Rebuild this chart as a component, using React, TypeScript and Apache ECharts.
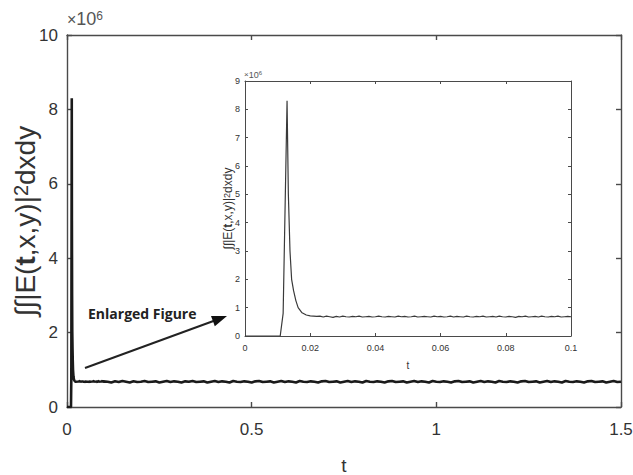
import React, { useEffect, useRef } from "react";
import * as echarts from "echarts";

// Early part (pulse), t in seconds, energy in units of 1e6
const pulseT = [0, 0.0108, 0.0117, 0.0129, 0.0133, 0.0138, 0.0143, 0.0149, 0.0156, 0.0163, 0.0175, 0.0188, 0.02];
const pulseV = [0, 0, 0.8, 8.3, 5.0, 3.0, 2.0, 1.6, 1.25, 1.0, 0.82, 0.74, 0.71];

// Ripple plateau, t = 0.021 ... 0.100 (step 0.001)
const RIPPLE_T0 = 0.021;
const RIPPLE_DT = 0.001;
const rippleV = [
  0.70, 0.69, 0.70, 0.67, 0.70, 0.68, 0.66, 0.69, 0.67, 0.70,
  0.68, 0.67, 0.69, 0.68, 0.70, 0.67, 0.68, 0.69, 0.67, 0.68,
  0.70, 0.68, 0.67, 0.69, 0.68, 0.67, 0.70, 0.68, 0.69, 0.67,
  0.68, 0.70, 0.67, 0.68, 0.69, 0.68, 0.67, 0.70, 0.68, 0.69,
  0.67, 0.68, 0.70, 0.67, 0.69, 0.68, 0.67, 0.70, 0.68, 0.67,
  0.69, 0.68, 0.70, 0.67, 0.68, 0.69, 0.67, 0.70, 0.68, 0.67,
  0.69, 0.68, 0.66, 0.69, 0.68, 0.70, 0.67, 0.68, 0.69, 0.67,
  0.70, 0.68, 0.67, 0.69, 0.68, 0.70, 0.67, 0.68, 0.69, 0.68,
];

// Long tail for the main plot, t = 0.11 ... 1.50 (step 0.01)
const TAIL_T0 = 0.11;
const TAIL_DT = 0.01;
const tailV = [
  0.68, 0.66, 0.69, 0.67, 0.70, 0.68, 0.66, 0.69, 0.67, 0.68,
  0.70, 0.67, 0.68, 0.69, 0.66, 0.68, 0.70, 0.67, 0.69, 0.68,
  0.66, 0.69, 0.68, 0.70, 0.67, 0.68, 0.69, 0.66, 0.68, 0.70,
  0.67, 0.69, 0.68, 0.66, 0.70, 0.68, 0.67, 0.69, 0.68, 0.66,
  0.69, 0.70, 0.67, 0.68, 0.69, 0.66, 0.68, 0.70, 0.67, 0.69,
  0.68, 0.66, 0.70, 0.68, 0.67, 0.69, 0.68, 0.66, 0.69, 0.70,
  0.67, 0.68, 0.69, 0.66, 0.68, 0.70, 0.67, 0.69, 0.68, 0.66,
  0.70, 0.68, 0.67, 0.69, 0.68, 0.66, 0.69, 0.70, 0.67, 0.68,
  0.69, 0.66, 0.68, 0.70, 0.67, 0.69, 0.68, 0.66, 0.70, 0.68,
  0.67, 0.69, 0.68, 0.66, 0.69, 0.70, 0.67, 0.68, 0.69, 0.66,
  0.68, 0.70, 0.67, 0.69, 0.68, 0.66, 0.70, 0.68, 0.67, 0.69,
  0.68, 0.66, 0.69, 0.70, 0.67, 0.68, 0.69, 0.66, 0.68, 0.70,
  0.67, 0.69, 0.68, 0.66, 0.70, 0.68, 0.67, 0.69, 0.68, 0.66,
  0.69, 0.70, 0.67, 0.68, 0.69, 0.66, 0.68, 0.70, 0.67, 0.68,
];

const mainXTicks = { min: 0, max: 1.5, interval: 0.5 };
const mainYTicks = { min: 0, max: 10, interval: 2 };
const insetXTicks = { min: 0, max: 0.1, interval: 0.02 };
const insetYTicks = { min: 0, max: 9, interval: 1 };

const FONT = "Liberation Sans";
const AX = "#4a4a4a";
const TXT = "#333";

function buildInset(): number[][] {
  const pts: number[][] = pulseT.map((t, i) => [t, pulseV[i]]);
  rippleV.forEach((v, i) => pts.push([+(RIPPLE_T0 + i * RIPPLE_DT).toFixed(4), v]));
  return pts;
}
function buildMain(): number[][] {
  const pts = buildInset();
  tailV.forEach((v, i) => pts.push([+(TAIL_T0 + i * TAIL_DT).toFixed(3), v]));
  return pts;
}

const yNameRich = (fs: number) => ({
  a: { fontSize: fs, fontFamily: FONT, color: TXT },
  b: { fontSize: fs, fontFamily: FONT, color: TXT, fontWeight: "bold" as const },
  s: { fontSize: Math.round(fs * 0.72), fontFamily: FONT, color: TXT, verticalAlign: "top" as const },
});
const yNameText = "{a|∫∫|E(}{b|t}{a|,x,y)|}{s|2}{a|dxdy}";

function axisStyle(tickLen: number, lw: number) {
  return {
    line: { show: true, onZero: false, lineStyle: { color: AX, width: lw } },
    tick: { show: true, inside: true, length: tickLen, lineStyle: { color: AX, width: lw } },
  };
}

export default function App() {
  const ref = useRef<HTMLDivElement>(null);
  useEffect(() => {
    if (!ref.current) return;
    const chart = echarts.init(ref.current, undefined, { renderer: "svg" });
    const m = axisStyle(5, 1.4);
    const n = axisStyle(3, 1);
    const arrowTail = [85, 368];
    const arrowTip = [227, 316];
    const dx = arrowTip[0] - arrowTail[0];
    const dy = arrowTip[1] - arrowTail[1];
    const L = Math.hypot(dx, dy);
    const ux = dx / L, uy = dy / L;
    const hl = 15, hw = 5.5;
    const bx = arrowTip[0] - ux * hl, by = arrowTip[1] - uy * hl;
    const option: any = {
      animation: false,
      backgroundColor: "#fff",
      grid: [
        { left: 67, top: 35, width: 554, height: 372, show: true, backgroundColor: "#fff", borderWidth: 0, outerBoundsMode: "none", containLabel: false },
        { left: 245, top: 81, width: 326, height: 255, show: true, backgroundColor: "#fff", borderWidth: 0, outerBoundsMode: "none", containLabel: false },
      ],
      xAxis: [
        {
          gridIndex: 0, type: "value", position: "bottom", ...mainXTicks,
          axisLine: m.line, axisTick: m.tick, splitLine: { show: false },
          axisLabel: { fontSize: 17, fontFamily: FONT, color: TXT, margin: 14 },
          name: "t", nameLocation: "middle", nameGap: 49, nameMoveOverlap: false,
          nameTextStyle: { fontSize: 19, fontFamily: FONT, color: TXT },
        },
        {
          gridIndex: 0, type: "value", position: "top", ...mainXTicks,
          axisLine: m.line, axisTick: m.tick, splitLine: { show: false }, axisLabel: { show: false },
        },
        {
          gridIndex: 1, type: "value", position: "bottom", ...insetXTicks,
          axisLine: n.line, axisTick: n.tick, splitLine: { show: false },
          axisLabel: { fontSize: 9, fontFamily: FONT, color: TXT, margin: 7 },
          name: "t", nameLocation: "middle", nameGap: 24, nameMoveOverlap: false,
          nameTextStyle: { fontSize: 10, fontFamily: FONT, color: TXT },
        },
        {
          gridIndex: 1, type: "value", position: "top", ...insetXTicks,
          axisLine: n.line, axisTick: n.tick, splitLine: { show: false }, axisLabel: { show: false },
        },
      ],
      yAxis: [
        {
          gridIndex: 0, type: "value", position: "left", ...mainYTicks,
          axisLine: m.line, axisTick: m.tick, splitLine: { show: false },
          axisLabel: { fontSize: 17, fontFamily: FONT, color: TXT, margin: 9 },
          name: yNameText, nameLocation: "middle", nameGap: 28, nameRotate: 90, nameMoveOverlap: false,
          nameTextStyle: { rich: yNameRich(28) },
        },
        {
          gridIndex: 0, type: "value", position: "right", ...mainYTicks,
          axisLine: m.line, axisTick: m.tick, splitLine: { show: false }, axisLabel: { show: false },
        },
        {
          gridIndex: 1, type: "value", position: "left", ...insetYTicks,
          axisLine: n.line, axisTick: n.tick, splitLine: { show: false },
          axisLabel: { fontSize: 9, fontFamily: FONT, color: TXT, margin: 5 },
          name: yNameText, nameLocation: "middle", nameGap: 11, nameRotate: 90, nameMoveOverlap: false,
          nameTextStyle: { rich: yNameRich(12) },
        },
        {
          gridIndex: 1, type: "value", position: "right", ...insetYTicks,
          axisLine: n.line, axisTick: n.tick, splitLine: { show: false }, axisLabel: { show: false },
        },
      ],
      series: [
        {
          type: "line", xAxisIndex: 0, yAxisIndex: 0, data: buildMain(), showSymbol: false,
          lineStyle: { color: "#1a1a1a", width: 2.6 },
        },
        {
          type: "line", xAxisIndex: 2, yAxisIndex: 2, data: buildInset(), showSymbol: false,
          lineStyle: { color: "#3a3a3a", width: 1.2 },
        },
      ],
      graphic: [
        {
          type: "text", left: 67, top: 10, z: 10,
          style: {
            text: "{x|×}{a|10}{s|6}",
            rich: {
              x: { fontSize: 16, fontFamily: FONT, fill: "#555" },
              a: { fontSize: 18, fontFamily: FONT, fill: "#555" },
              s: { fontSize: 12, fontFamily: FONT, fill: "#555", verticalAlign: "top" },
            },
          },
        },
        {
          type: "text", left: 244, top: 70, z: 10,
          style: {
            text: "{x|×}{a|10}{s|6}",
            rich: {
              x: { fontSize: 8, fontFamily: FONT, fill: "#555" },
              a: { fontSize: 9, fontFamily: FONT, fill: "#555" },
              s: { fontSize: 6, fontFamily: FONT, fill: "#555", verticalAlign: "top" },
            },
          },
        },
        {
          type: "line", z: 10,
          shape: { x1: arrowTail[0], y1: arrowTail[1], x2: bx + ux * 2, y2: by + uy * 2 },
          style: { stroke: "#222", lineWidth: 2 },
        },
        {
          type: "polygon", z: 10,
          shape: {
            points: [
              [arrowTip[0], arrowTip[1]],
              [bx - uy * hw, by + ux * hw],
              [bx + uy * hw, by - ux * hw],
            ],
          },
          style: { fill: "#111" },
        },
        {
          type: "text", left: 88, top: 306, z: 10,
          style: { text: "Enlarged Figure", fontSize: 14, fontWeight: "bold", fontFamily: "Open Sans", fill: "#222" },
        },
      ],
    };
    chart.setOption(option);
    return () => chart.dispose();
  }, []);
  return <div ref={ref} style={{ width: 633, height: 475, position: "absolute", left: 0, top: 0 }} />;
}
